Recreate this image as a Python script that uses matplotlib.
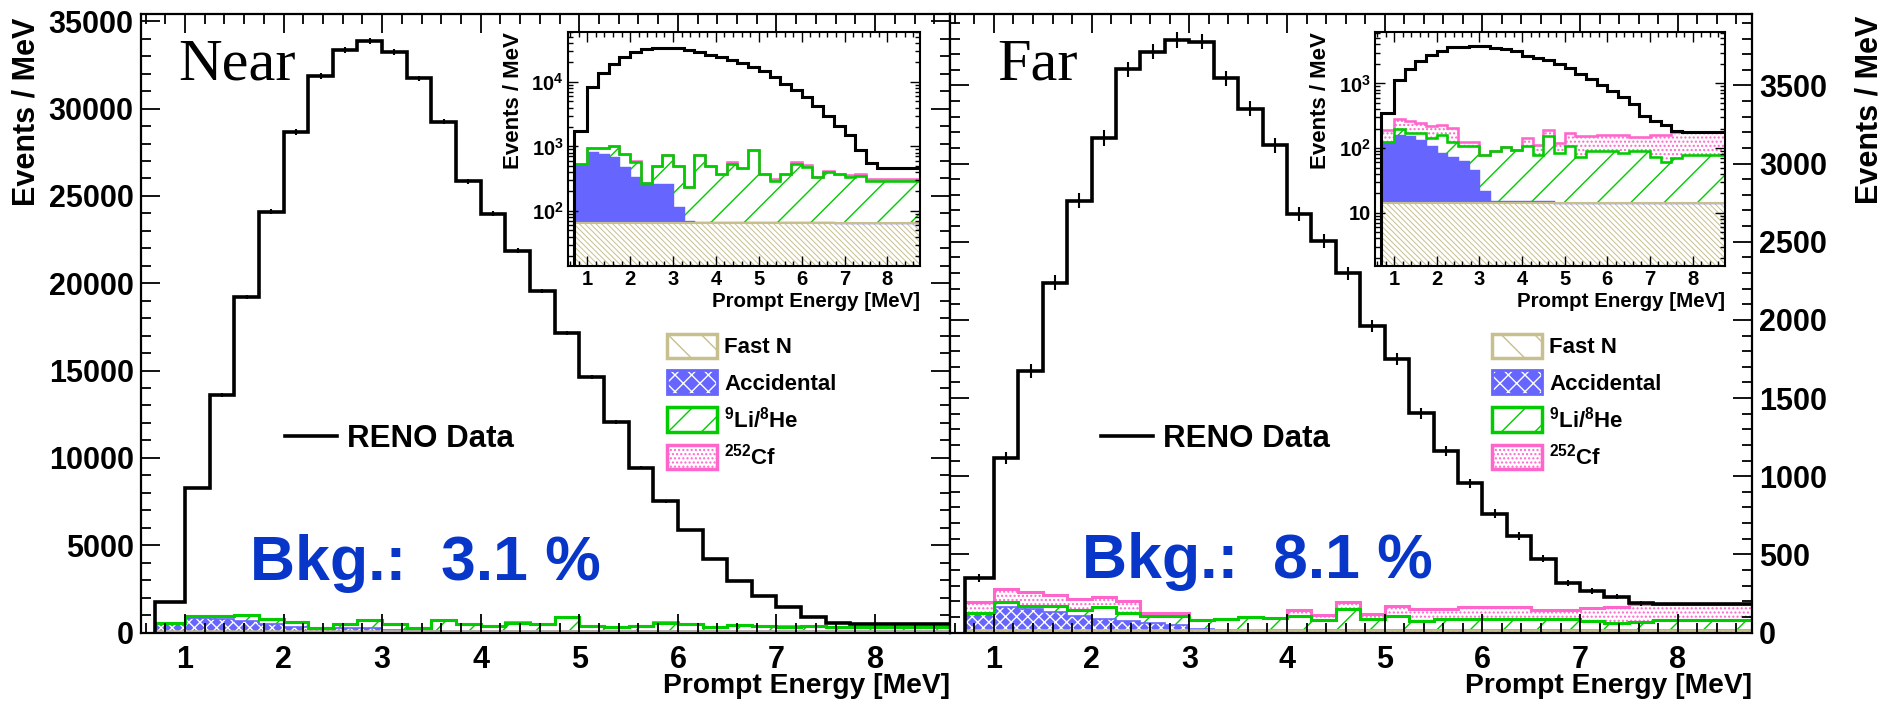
import numpy as np
import matplotlib
matplotlib.use("Agg")
import matplotlib.pyplot as plt
from matplotlib.patches import Patch
from matplotlib.lines import Line2D
from matplotlib.ticker import MultipleLocator, LogLocator, FixedLocator, FixedFormatter, NullFormatter

plt.rcParams.update({
    "font.family": ["Liberation Sans", "DejaVu Sans"],
    "font.weight": "bold",
    "axes.labelweight": "bold",
    "mathtext.fontset": "custom",
    "mathtext.rm": "Liberation Sans:bold",
    "mathtext.bf": "Liberation Sans:bold",
    "mathtext.it": "Liberation Sans:bold",
    "mathtext.sf": "Liberation Sans:bold",
    "hatch.linewidth": 1.0,
    "axes.linewidth": 1.6,
})

# ---------------- data (events / MeV) ----------------
edges = [0.7, 1.0, 1.25, 1.5, 1.75, 2.0, 2.25, 2.5, 2.75, 3.0, 3.25, 3.5, 3.75, 4.0,
         4.25, 4.5, 4.75, 5.0, 5.25, 5.5, 5.75, 6.0, 6.25, 6.5, 6.75, 7.0, 7.25, 7.5,
         7.75, 12.0]

near_data = [1740, 8280, 13590, 19230, 24100, 28660, 31870, 33350, 33870, 33230, 31740,
             29250, 25840, 23970, 21870, 19560, 17130, 14640, 12050, 9430, 7510, 5850,
             4230, 2950, 2100, 1480, 870, 560, 460]
near_err = [40, 80, 100, 120, 135, 150, 155, 160, 160, 160, 155, 150, 145, 140, 130, 125,
            115, 110, 100, 85, 75, 65, 60, 50, 40, 35, 25, 20, 0]
near_fastn = [65, 65, 65, 65, 65, 65, 65, 65, 65, 65, 65, 65, 65, 65, 65, 65, 65, 65, 65,
              65, 65, 65, 65, 65, 65, 65, 65, 65, 65]
near_acc = [446, 757, 711, 622, 416, 271, 201, 201, 201, 50, 4, 3, 3, 3, 3, 3, 3, 3, 3, 3,
            3, 3, 3, 3, 0, 0, 0, 0, 0]
near_lihe = [19, 126, 172, 320, 295, 239, 5, 233, 465, 384, 167, 663, 431, 302, 475, 403,
             805, 302, 224, 312, 475, 417, 262, 335, 305, 275, 284, 227, 227]
near_cf = [0, 0, 0, 0, 0, 25, 0, 0, 0, 0, 0, 0, 0, 0, 30, 0, 0, 0, 15, 0, 30, 25, 0, 20, 0,
           20, 20, 20, 20]

far_data = [349, 1117, 1675, 2239, 2763, 3164, 3602, 3717, 3789, 3780, 3545, 3350, 3116,
            2678, 2506, 2297, 1962, 1747, 1403, 1160, 954, 759, 616, 473, 315, 266, 229,
            186, 180]
far_err = [25, 40, 45, 48, 50, 50, 50, 50, 50, 50, 50, 48, 47, 45, 44, 42, 40, 38, 35, 32,
           30, 28, 25, 22, 20, 18, 16, 14, 0]
far_fastn = [14, 14, 14, 14, 14, 14, 14, 14, 14, 14, 14, 14, 14, 14, 14, 14, 14, 14, 14,
             14, 14, 14, 14, 14, 14, 14, 14, 14, 14]
far_acc = [108, 147, 137, 120, 94, 70, 60, 48, 32, 8, 1, 1, 1, 1, 1, 1, 0, 0, 0, 0, 0, 0,
           0, 0, 0, 0, 0, 0, 0]
far_lihe = [3, 36, 20, 37, 35, 77, 48, 44, 60, 57, 74, 87, 77, 93, 64, 136, 70, 94, 60, 75,
            75, 75, 70, 75, 75, 60, 46, 56, 65]
far_cf = [67, 84, 87, 72, 73, 68, 82, 20, 20, 0, 0, 0, 0, 35, 33, 41, 35, 62, 77, 62, 72,
          72, 77, 58, 58, 83, 101, 110, 101]

x_ticks = [1, 2, 3, 4, 5, 6, 7, 8]
near_log_ticks = [100, 1000, 10000]
near_log_labels = ["10$^{2}$", "10$^{3}$", "10$^{4}$"]
far_log_ticks = [10, 100, 1000]
far_log_labels = ["10", "10$^{2}$", "10$^{3}$"]

TAN = "#c8bf8e"
BLUE = "#6666ff"
GREEN = "#00cc00"
PINK = "#ff66cc"
TXTBLUE = "#0836c8"

W, H = 1883, 702
fig = plt.figure(figsize=(W / 100, H / 100), dpi=100)
fig.patch.set_facecolor("white")


def px_axes(x0, x1, ytop, ybot):
    return fig.add_axes([x0 / W, 1 - ybot / H, (x1 - x0) / W, (ybot - ytop) / H])


ax1 = px_axes(140.6, 950, 14, 632.5)
ax2 = px_axes(950, 1752, 14, 632.5)
in1 = px_axes(568, 920, 31.7, 266)
in2 = px_axes(1375, 1725, 31.7, 266)


def draw(ax, data, err, fastn, acc, lihe, cf, log, lw_scale=1.0):
    e = np.array(edges, float)
    base = 1.0 if log else 0.0
    c0 = np.array(fastn, float)
    c1 = c0 + np.array(acc, float)
    c2 = c1 + np.array(lihe, float)
    c3 = c2 + np.array(cf, float)
    with plt.rc_context({"hatch.linewidth": 0.7}):
        ax.stairs(c0, e, baseline=base, fill=True, facecolor="white", edgecolor=TAN,
                  hatch="\\\\\\\\\\\\", lw=0)
    if log:
        ax.stairs(c1, e, baseline=c0, fill=True, facecolor=BLUE, edgecolor=BLUE, lw=0)
    else:
        ax.stairs(c1, e, baseline=c0, fill=True, facecolor=BLUE, edgecolor="white",
                  hatch="xxx", lw=0)
    ax.stairs(c2, e, baseline=c1, fill=True, facecolor="white", edgecolor=GREEN,
              hatch="/", lw=0)
    ax.stairs(c3, e, baseline=c2, fill=True, facecolor="white", edgecolor=PINK,
              hatch="....", lw=0)
    ax.stairs(c3, e, baseline=None, color=PINK, lw=2.2 * lw_scale)
    ax.stairs(c1, e, baseline=None, color=BLUE, lw=1.2 * lw_scale)
    ax.stairs(c0, e, baseline=None, color=TAN, lw=1.8 * lw_scale)
    ax.stairs(c2, e, baseline=None, color=GREEN, lw=2.2 * lw_scale)
    ax.stairs(np.array(data, float), e, baseline=base, color="black", lw=2.6 * lw_scale)
    if not log:
        ctr = 0.5 * (e[:-1] + e[1:])
        ax.errorbar(ctr[:-1], data[:-1], yerr=err[:-1], fmt="none", ecolor="black",
                    elinewidth=1.5, capsize=0)
    ax.set_xlim(0.55, 8.76)


draw(ax1, near_data, near_err, near_fastn, near_acc, near_lihe, near_cf, False)
draw(ax2, far_data, far_err, far_fastn, far_acc, far_lihe, far_cf, False)
draw(in1, near_data, near_err, near_fastn, near_acc, near_lihe, near_cf, True, 0.85)
draw(in2, far_data, far_err, far_fastn, far_acc, far_lihe, far_cf, True, 0.85)

# ---------------- main axes styling ----------------
ax1.set_ylim(0, 35420)
ax2.set_ylim(0, 3957)
for ax in (ax1, ax2):
    ax.set_xticks(x_ticks)
    ax.xaxis.set_minor_locator(MultipleLocator(0.2))
    ax.tick_params(which="both", direction="in", top=True, right=True, width=1.3)
    ax.tick_params(which="major", length=14, labelsize=22)
    ax.tick_params(which="minor", length=7)
    ax.tick_params(axis="x", pad=9)
    ax.set_xlabel("Prompt Energy [MeV]", fontsize=20.3, loc="right")
    ax.xaxis.set_label_coords(1.0, -0.066)

ax1.yaxis.set_major_locator(MultipleLocator(5000))
ax1.yaxis.set_minor_locator(MultipleLocator(1000))
ax1.tick_params(axis="y", pad=5)
ax1.set_ylabel("Events / MeV", fontsize=22, loc="top")
ax1.yaxis.set_label_coords(-0.1223, 0.9935)

ax2.yaxis.set_major_locator(MultipleLocator(500))
ax2.yaxis.set_minor_locator(MultipleLocator(100))
ax2.tick_params(axis="y", which="both", left=True, right=True, labelleft=False,
                labelright=True, pad=5)
ax2.yaxis.set_label_position("right")
ax2.set_ylabel("Events / MeV", fontsize=22, loc="top")
ax2.yaxis.set_label_coords(1.1284, 0.997)

# ---------------- insets ----------------
for ax, ylo, yhi, tks, lbl in ((in1, 14, 6.0e4, near_log_ticks, near_log_labels),
                                (in2, 1.5, 6300, far_log_ticks, far_log_labels)):
    ax.set_yscale("log")
    ax.set_ylim(ylo, yhi)
    ax.yaxis.set_major_locator(FixedLocator(tks))
    ax.yaxis.set_major_formatter(FixedFormatter(lbl))
    ax.yaxis.set_minor_locator(LogLocator(base=10, subs=(2, 3, 4, 5, 6, 7, 8, 9)))
    ax.yaxis.set_minor_formatter(NullFormatter())
    ax.set_xticks(x_ticks)
    ax.xaxis.set_minor_locator(MultipleLocator(0.2))
    ax.tick_params(which="both", direction="in", top=True, right=True, width=1.0)
    ax.tick_params(which="major", length=7, labelsize=14.5, pad=3)
    ax.tick_params(which="minor", length=3.5)
    ax.set_xlabel("Prompt Energy [MeV]", fontsize=14.8, loc="right")
    ax.xaxis.set_label_coords(1.0, -0.113)
    ax.set_ylabel("Events / MeV", fontsize=16, loc="top")
    ax.yaxis.set_label_coords(-0.126, 1.0)
    for s in ax.spines.values():
        s.set_linewidth(1.5)

# ---------------- legends & texts ----------------
def add_legends(ax, x_data_leg, x_bkg_leg):
    leg1 = ax.legend(handles=[Line2D([], [], color="black", lw=2.6)], labels=["RENO Data"],
                     loc="center left", bbox_to_anchor=(x_data_leg, 0.3133),
                     frameon=False, fontsize=22.5, handlelength=1.67, handletextpad=0.31,
                     borderpad=0, borderaxespad=0)
    ax.add_artist(leg1)
    handles = [
        Patch(facecolor="white", edgecolor=TAN, hatch="\\", lw=2.5),
        (Patch(facecolor=BLUE, edgecolor="white", hatch="xx", lw=0),
         Patch(fill=False, edgecolor=BLUE, lw=2.0)),
        Patch(facecolor="white", edgecolor=GREEN, hatch="/", lw=2.5),
        Patch(facecolor="white", edgecolor=PINK, hatch="....", lw=2.5),
    ]
    labels = ["Fast N", "Accidental", "$^{9}$Li/$^{8}$He", "$^{252}$Cf"]
    ax.legend(handles=handles, labels=labels, loc="upper left",
              bbox_to_anchor=(x_bkg_leg, 0.4834), frameon=False, fontsize=16,
              handlelength=2.25, handleheight=1.33, labelspacing=0.52,
              handletextpad=0.32, borderpad=0, borderaxespad=0)


add_legends(ax1, 0.1784, 0.6504)
add_legends(ax2, 0.1883, 0.6758)

ax1.text(0.0462, 0.8933, "Near", transform=ax1.transAxes, fontsize=43.5,
         family="Liberation Serif", fontweight="normal", va="baseline", ha="left")
ax2.text(0.0586, 0.8933, "Far", transform=ax2.transAxes, fontsize=43.5,
         family="Liberation Serif", fontweight="normal", va="baseline", ha="left")
ax1.text(0.1352, 0.0854, "Bkg.:  3.1 %", transform=ax1.transAxes, fontsize=45,
         color=TXTBLUE, fontweight="bold", va="baseline", ha="left")
ax2.text(0.1652, 0.0880, "Bkg.:  8.1 %", transform=ax2.transAxes, fontsize=45,
         color=TXTBLUE, fontweight="bold", va="baseline", ha="left")

fig.savefig("out.png", dpi=100, facecolor="white")
